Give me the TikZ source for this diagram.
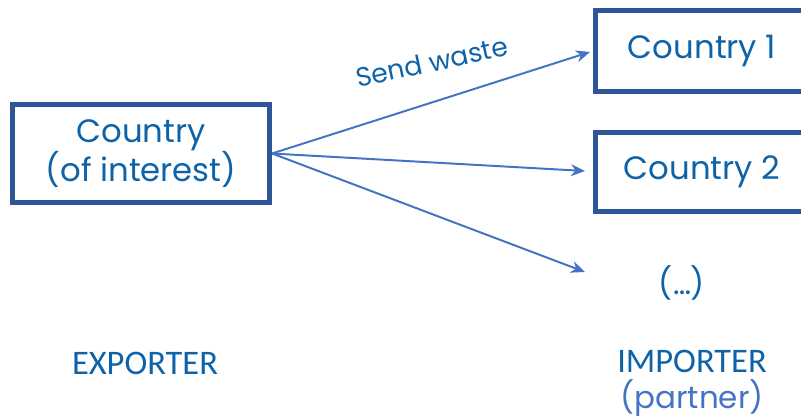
\documentclass[tikz,border=0pt]{standalone}
\usepackage{fontspec}
\setmainfont{Poppins}
\newfontfamily\labelfont{Carlito}
\usepackage{xcolor}
\usetikzlibrary{arrows.meta}

\definecolor{txtblue}{RGB}{14,99,168}
\definecolor{boxblue}{RGB}{47,85,151}
\definecolor{arrblue}{RGB}{68,114,196}

\tikzset{
  cbox/.style={draw=boxblue, line width=3.6pt, text=txtblue, align=center,
    font=\fontsize{23}{28}\selectfont},
  flow/.style={draw=arrblue, line width=1.4pt, -{Stealth[length=10pt,width=8.5pt]}},
  role/.style={text=txtblue, align=center, font=\labelfont\fontsize{24.5}{28}\selectfont}
}

\begin{document}
\begin{tikzpicture}
    \clip (0,0) rectangle (20.025,10.45);
    % exporter and importers
    \node[cbox, minimum width=6.425cm, minimum height=2.45cm] (exp) at (3.525,6.6125) {Country\\(of interest)};
    \node[cbox, minimum width=5.325cm, minimum height=2.025cm] (imp1) at (17.55,9.175) {Country 1};
    \node[cbox, minimum width=5.325cm, minimum height=1.975cm] (imp2) at (17.55,6.15) {Country 2};
    \node[text=txtblue, font=\fontsize{22}{28}\selectfont] (more) at (17.05,3.375) {(\dots)};
    % arrow ends
    \coordinate (t1) at (14.75,9.15);
    \coordinate (t2) at (14.625,6.175);
    \coordinate (t3) at (14.625,3.65);
    \draw[flow] (exp.east) -- (t1);
    \draw[flow] (exp.east) -- (t2);
    \draw[flow] (exp.east) -- (t3);
    \node[text=txtblue, rotate=12, font=\fontsize{19}{22}\selectfont] (send) at (10.8,8.9) {Send waste};
    % labels underneath
    \node[role] (exporter) at (3.625,1.375) {EXPORTER};
    \node[role] (importer) at (17.3,1.42) {IMPORTER};
    \node[text=arrblue, inner sep=0pt, font=\fontsize{22}{28}\selectfont] (partner) at (17.3,0.5) {(partner)};
\end{tikzpicture}
\end{document}
